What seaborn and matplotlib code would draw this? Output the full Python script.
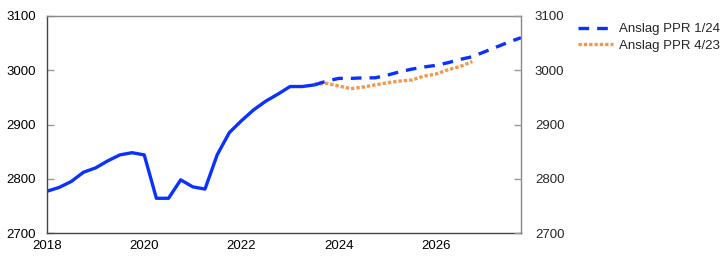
import numpy as np
import pandas as pd
import matplotlib
matplotlib.use("Agg")
import matplotlib.pyplot as plt
import seaborn as sns

# Historical (solid), quarterly from 2018Q1 to 2023Q3
hist_start = "2018Q1"
hist_values = [2777, 2784, 2795, 2812, 2820, 2833, 2844, 2848,
               2844, 2764, 2764, 2798, 2785, 2781, 2844, 2885,
               2907, 2927, 2943, 2956, 2970, 2970, 2973]

# Forecast PPR 1/24 (dashed blue), 2023Q3 to 2027Q4
ppr124_start = "2023Q3"
ppr124_values = [2973, 2980, 2985, 2985, 2986, 2986, 2991, 2997, 3002,
                 3006, 3009, 3014, 3020, 3025, 3034, 3043, 3052, 3060]

# Forecast PPR 4/23 (dotted orange), 2023Q3 to 2026Q4
ppr423_start = "2023Q3"
ppr423_values = [2974, 2976, 2971, 2966, 2969, 2973, 2977, 2980, 2982,
                 2989, 2993, 3001, 3007, 3016]

labels = ["Anslag PPR 1/24", "Anslag PPR 4/23"]
yticks = [2700, 2800, 2900, 3000, 3100]
xticks = [2018, 2020, 2022, 2024, 2026]


def qx(start, n):
    p = pd.Period(start, freq="Q")
    return [(p + i).year + ((p + i).quarter - 1) / 4 for i in range(n)]


hist_df = pd.DataFrame({"x": qx(hist_start, len(hist_values)), "y": hist_values})
f1_df = pd.DataFrame({"x": qx(ppr124_start, len(ppr124_values)), "y": ppr124_values})
f2_df = pd.DataFrame({"x": qx(ppr423_start, len(ppr423_values)), "y": ppr423_values})

sns.set_theme(style="white")
plt.rcParams["font.family"] = ["Liberation Sans", "DejaVu Sans"]

fig = plt.figure(figsize=(7.22, 2.67), dpi=100)
ax = fig.add_axes([47 / 722, 1 - 233 / 267, (521 - 47) / 722, (233 - 16) / 267])

blue = "#0a32ff"
orange = "#f5964b"

sns.lineplot(data=hist_df, x="x", y="y", ax=ax, color=blue, lw=2.4)
sns.lineplot(data=f2_df, x="x", y="y", ax=ax, color=orange, lw=2.4,
             label=labels[1])
ax.lines[-1].set_linestyle((0, (1, 0.6)))
sns.lineplot(data=f1_df, x="x", y="y", ax=ax, color=blue, lw=2.4,
             label=labels[0])
ax.lines[-1].set_linestyle((0, (3.2, 2.4)))

ax.set_xlim(2018, 2027.75)
ax.set_ylim(2700, 3100)
ax.set_xticks(xticks)
ax.set_xticklabels([str(t) for t in xticks])
ax.set_yticks(yticks)
ax.set_xlabel("")
ax.set_ylabel("")

for s in ax.spines.values():
    s.set_visible(True)
    s.set_color("#888888")
    s.set_linewidth(1.0)
ax.spines["left"].set_color("#444444")
ax.spines["bottom"].set_color("#444444")

ax.tick_params(axis="both", direction="in", length=5, width=1, color="#999999",
               labelsize=9.5, labelcolor="black")
ax.tick_params(axis="y", pad=8)
ax.tick_params(axis="x", pad=5)

ax2 = ax.twinx()
ax2.set_ylim(ax.get_ylim())
ax2.set_yticks(yticks)
ax2.tick_params(axis="y", direction="in", length=5, width=1, color="#999999",
                labelsize=9.5, pad=10)
for s in ax2.spines.values():
    s.set_visible(False)
ax2.grid(False)

handles, lbls = ax.get_legend_handles_labels()
order = [lbls.index(labels[0]), lbls.index(labels[1])]
leg = ax.legend([handles[i] for i in order], [lbls[i] for i in order],
                loc="upper left", bbox_to_anchor=(578 / 722, 1 - 23 / 267),
                bbox_transform=fig.transFigure, frameon=False,
                fontsize=9.5, handlelength=2.65, handletextpad=0.45,
                borderaxespad=0, labelspacing=0.35, borderpad=0)

fig.savefig("out.png", dpi=100)
